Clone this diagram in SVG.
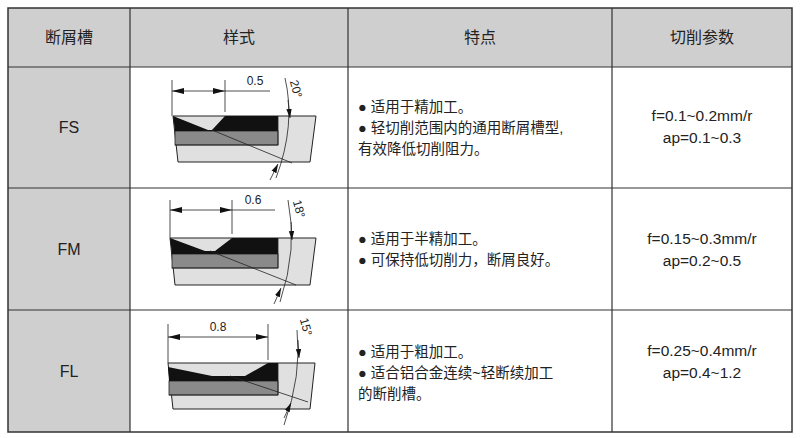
<svg xmlns="http://www.w3.org/2000/svg" width="800" height="438" viewBox="0 0 800 438">
<style>
text{font-family:"Liberation Sans","Noto Sans CJK SC",sans-serif;fill:#222}
.h{font-size:16px;text-anchor:middle}
.c{font-size:14.5px}
.p{font-size:15.5px;text-anchor:middle}
.n{font-size:16px;text-anchor:middle}
.d{font-size:12px;text-anchor:middle}
.th{stroke:#222;stroke-width:0.8;fill:none}
</style>
<defs>
<marker id="a" viewBox="0 0 10 10" refX="10" refY="5" markerWidth="9" markerHeight="9" markerUnits="userSpaceOnUse" orient="auto-start-reverse"><path d="M0,2L10,5L0,8z" fill="#111"/></marker>
<marker id="b" viewBox="0 0 10 10" refX="10" refY="5" markerWidth="12" markerHeight="12" markerUnits="userSpaceOnUse" orient="auto-start-reverse"><path d="M0,2.5L10,5L0,7.5z" fill="#111"/></marker>
</defs>
<rect x="0" y="0" width="800" height="438" fill="#fff"/>
<g id="table">
<rect x="8" y="8" width="784" height="59" fill="#cfcfcf"/>
<rect x="8" y="67" width="122" height="365" fill="#cfcfcf"/>
<rect x="8" y="8" width="784" height="424" fill="none" stroke="#333" stroke-width="1.5"/>
<path d="M130 8V432M348 8V432M612 8V432M8 67H792M8 188H792M8 310H792" stroke="#333" stroke-width="1.2"/>
<text class="h" x="69" y="43">断屑槽</text>
<text class="h" x="239" y="43">样式</text>
<text class="h" x="480" y="43">特点</text>
<text class="h" x="702" y="43">切削参数</text>
</g>
<g id="row-FS">
<text class="n" x="69" y="133">FS</text>
<path d="M173 116H316L310 162H178Z" fill="#e0e0e0" stroke="#222"/>
<rect x="175" y="131" width="103" height="14" fill="#8a8a8a" stroke="#222" stroke-width="0.8"/>
<path d="M173 116L208 130H212L225 116H278V131H175Z" fill="#111"/>
<path d="M175 145H278V116" class="th"/>
<path d="M172 80V116M225 80V112M225 91H270" class="th"/>
<path d="M172 91H225" class="th" marker-start="url(#b)" marker-end="url(#b)"/>
<text class="d" x="255" y="85">0.5</text>
<path d="M212 130L292 163" class="th"/>
<path d="M285 78Q296 125 276 178" class="th"/>
<path d="M288 100L290 118" class="th" marker-end="url(#a)"/>
<path d="M270 180L278 164" class="th" marker-end="url(#a)"/>
<text class="d" transform="translate(292 90) rotate(75)">20°</text>
<text class="c" x="358" y="112">● 适用于精加工。</text>
<text class="c" x="358" y="133">● 轻切削范围内的通用断屑槽型,</text>
<text class="c" x="358" y="154">有效降低切削阻力。</text>
<text class="p" x="702" y="121">f=0.1~0.2mm/r</text>
<text class="p" x="702" y="143">ap=0.1~0.3</text>
</g>
<g id="row-FM">
<text class="n" x="69" y="255">FM</text>
<path d="M170 238H316L310 285H175Z" fill="#e0e0e0" stroke="#222"/>
<rect x="172" y="254" width="106" height="14" fill="#8a8a8a" stroke="#222" stroke-width="0.8"/>
<path d="M170 238L205 251H215L232 238H278V254H172Z" fill="#111"/>
<path d="M172 268H278V238" class="th"/>
<path d="M170 200V238M232 200V234M232 210H275" class="th"/>
<path d="M170 210H232" class="th" marker-start="url(#b)" marker-end="url(#b)"/>
<text class="d" x="253" y="204">0.6</text>
<path d="M210 251L296 285" class="th"/>
<path d="M288 200Q298 248 280 302" class="th"/>
<path d="M291 222L292 240" class="th" marker-end="url(#a)"/>
<path d="M274 304L281 288" class="th" marker-end="url(#a)"/>
<text class="d" transform="translate(295 210) rotate(75)">18°</text>
<text class="c" x="358" y="244">● 适用于半精加工。</text>
<text class="c" x="358" y="265">● 可保持低切削力，断屑良好。</text>
<text class="p" x="702" y="244">f=0.15~0.3mm/r</text>
<text class="p" x="702" y="266">ap=0.2~0.5</text>
</g>
<g id="row-FL">
<text class="n" x="69" y="377">FL</text>
<path d="M168 363H315L310 409H173Z" fill="#e0e0e0" stroke="#222"/>
<rect x="169" y="381" width="109" height="14" fill="#8a8a8a" stroke="#222" stroke-width="0.8"/>
<path d="M168 367L212 376H245L268 363H278V381H169Z" fill="#111"/>
<path d="M169 395H278V363" class="th"/>
<path d="M168 324V363M268 324V360" class="th"/>
<path d="M168 337H268" class="th" marker-start="url(#b)" marker-end="url(#b)"/>
<text class="d" x="218" y="331">0.8</text>
<path d="M230 376L308 402" class="th"/>
<path d="M297 330Q302 375 284 425" class="th"/>
<path d="M298 340L299 358" class="th" marker-end="url(#a)"/>
<path d="M284 418L291 403" class="th" marker-end="url(#a)"/>
<text class="d" transform="translate(302 328) rotate(75)">15°</text>
<text class="c" x="358" y="357">● 适用于粗加工。</text>
<text class="c" x="358" y="378">● 适合铝合金连续~轻断续加工</text>
<text class="c" x="358" y="399">的断削槽。</text>
<text class="p" x="702" y="356">f=0.25~0.4mm/r</text>
<text class="p" x="702" y="378">ap=0.4~1.2</text>
</g>
</svg>
